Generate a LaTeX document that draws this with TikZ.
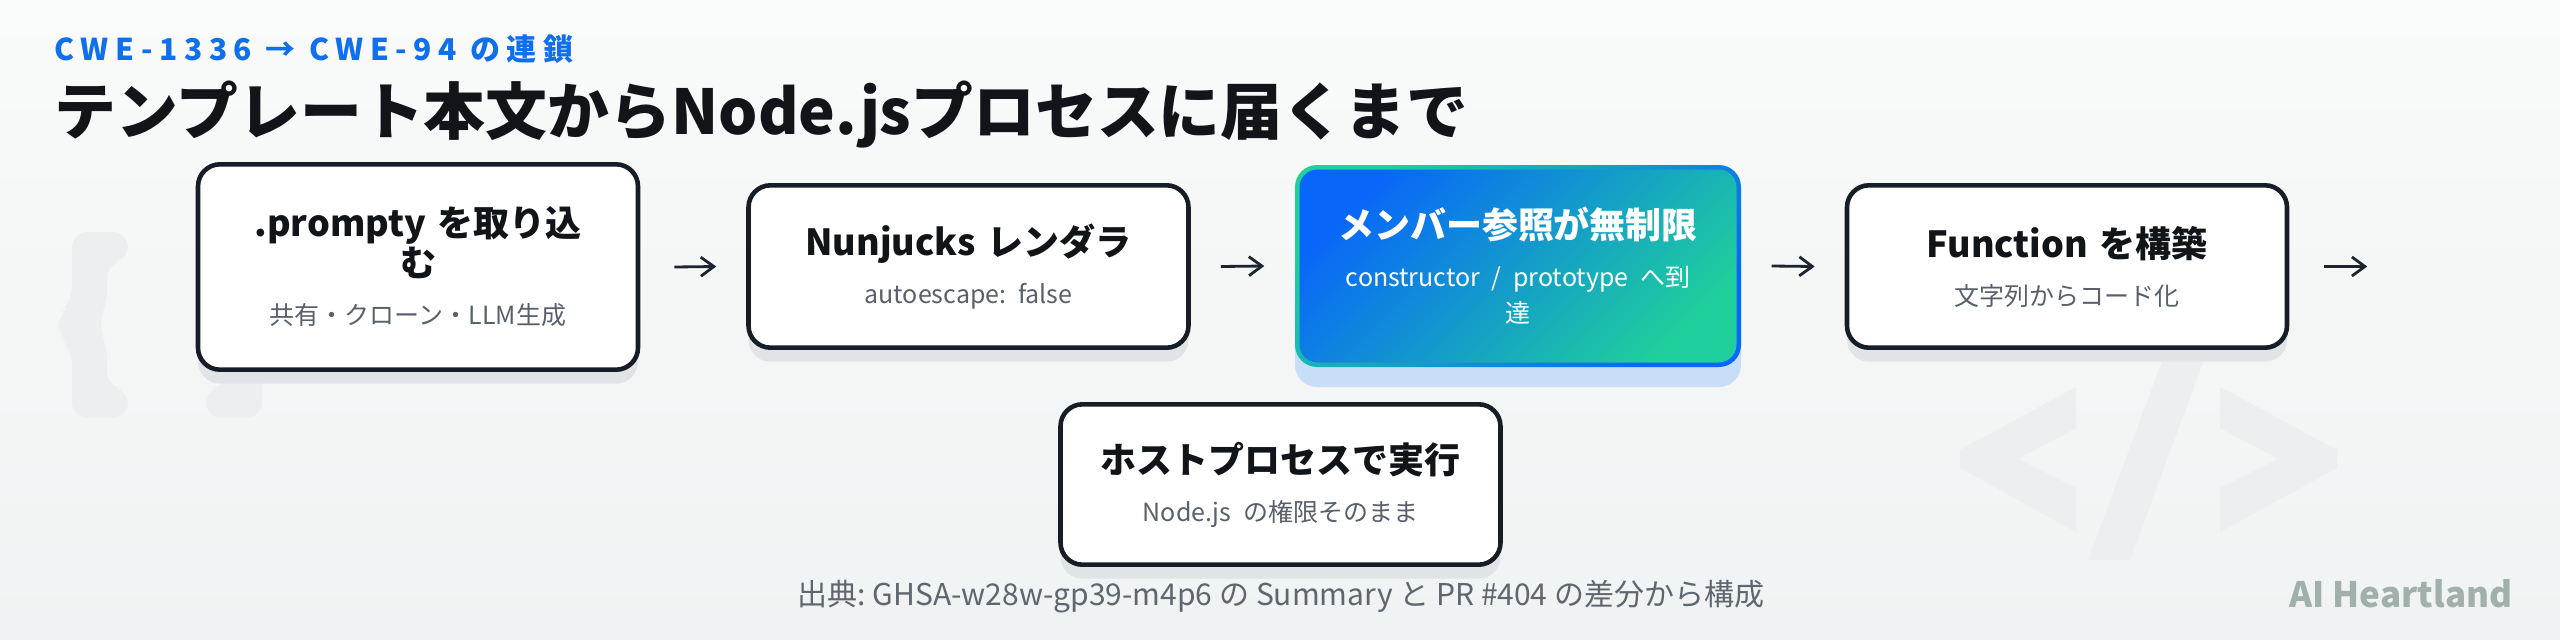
\documentclass[tikz,border=0pt]{standalone}
\usepackage{fontspec}
\setmainfont{Noto Sans CJK JP}
\usetikzlibrary{arrows.meta,shadows}
\frenchspacing

\definecolor{pagetop}{HTML}{F9FAFA}
\definecolor{pagebot}{HTML}{F0F3F3}
\definecolor{kicker}{HTML}{0F6FEC}
\definecolor{ink}{HTML}{111418}
\definecolor{edge}{HTML}{151D27}
\definecolor{subink}{HTML}{58606B}
\definecolor{shadowgray}{HTML}{E1E4E6}
\definecolor{hotblue}{HTML}{0866FA}
\definecolor{hotteal}{HTML}{1FCF9C}
\definecolor{hotshadow}{HTML}{C8DDF6}
\definecolor{ghostfill}{HTML}{ECEEEF}
\definecolor{arrowink}{HTML}{1C2430}
\definecolor{footink}{HTML}{5F6670}
\definecolor{brandink}{HTML}{A1B0AB}

\newcommand{\ttlfont}{\fontsize{10.24pt}{11.4pt}\selectfont\bfseries}
\newcommand{\subfont}{\fontsize{7.11pt}{10.24pt}\selectfont}
\newcommand{\stagetext}[3][subink]{{\ttlfont #2\par}\vspace{1.2mm}{\subfont\color{#1}#3\par}}

\tikzset{
  box/.style={rounded corners=2.2mm, text width=41.5mm, inner xsep=1.25mm,
    inner ysep=0pt, align=center, text=ink},
  stage/.style={box, draw=edge, line width=1.3pt, fill=white,
    drop shadow={shadow xshift=0mm, shadow yshift=-1.4mm, fill=shadowgray, opacity=1}},
  hot/.style={box, text=white, minimum width=44.6mm,
    left color=hotteal, right color=hotblue, shading angle=45,
    drop shadow={shadow xshift=0mm, shadow yshift=-2mm, fill=hotshadow, opacity=1},
    path picture={\shade[rounded corners=1.8mm, left color=hotblue, right color=hotteal, shading angle=45]
      ([xshift=0.45mm,yshift=-0.45mm]path picture bounding box.north west) rectangle
      ([xshift=-0.45mm,yshift=0.45mm]path picture bounding box.south east);}},
  flow/.style={draw=arrowink, line width=0.8pt, -{Straight Barb[length=1.3mm,width=1.9mm]}},
  ghost/.style={fill=ghostfill, draw=none}
}

\begin{document}
\begin{tikzpicture}[x=0.1mm,y=-0.1mm]
\useasboundingbox (0,0) rectangle (2560,640);
\shade[top color=pagetop, bottom color=pagebot] (0,0) rectangle (2560,640);

% faint code marks behind the boxes
\foreach \flip/\dx in {1/0,-1/334}
  \fill[ghost, shift={(\dx,0)}, xscale=\flip, rounded corners=1.6mm]
    (128,232) -- (72,232) -- (72,303) -- (58,314) -- (58,336) -- (72,347)
    -- (72,418) -- (128,418) -- (128,388) -- (107,388) -- (107,342)
    -- (96,325) -- (107,308) -- (107,262) -- (128,262) -- cycle;
\fill[ghost] (2076,387) -- (1960,450) -- (1960,468) -- (2076,532) -- (2076,488)
  -- (2018,459) -- (2076,428) -- cycle;
\fill[ghost] (2220,387) -- (2337,450) -- (2337,468) -- (2220,532) -- (2220,488)
  -- (2278,459) -- (2220,428) -- cycle;
\fill[ghost] (2088,560) -- (2130,560) -- (2226,300) -- (2185,300) -- cycle;

% heading
\node[anchor=base west, inner sep=0pt, text=kicker,
  font=\fontsize{8.54pt}{10pt}\selectfont\bfseries\addfontfeatures{LetterSpace=22}]
  (kick) at (54,60) {CWE-1336 → CWE-94 の連鎖};
\node[anchor=base west, inner sep=0pt, text=ink,
  font=\fontsize{17.6pt}{19pt}\selectfont\bfseries]
  (headline) at (54,134) {テンプレート本文からNode.jsプロセスに届くまで};

% stages
\node[stage, minimum height=20.54mm] (load) at (418,267)
  {\stagetext{.prompty を取り込\\む}{共有・クローン・LLM生成}};
\node[stage, minimum height=16.24mm] (render) at (968.5,266.5)
  {\stagetext{Nunjucks レンダラ}{autoescape: false}};
\node[hot, minimum height=20.2mm] (member) at (1518,266)
  {\stagetext[white]{メンバー参照が無制限}{constructor / prototype へ到\\達}};
\node[stage, minimum height=16.24mm] (func) at (2067,266.5)
  {\stagetext{Function を構築}{文字列からコード化}};
\node[stage, minimum height=16.04mm] (host) at (1280.5,484.5)
  {\stagetext{ホストプロセスで実行}{Node.js の権限そのまま}};

% arrows
\draw[flow] ([xshift=3.4mm]load.east) -- ([xshift=-3mm]render.west);
\draw[flow] ([xshift=3mm]render.east) -- ([xshift=-3mm]member.west);
\draw[flow] ([xshift=3mm]member.east) -- ([xshift=-3mm]func.west);
\coordinate (wrap) at ([xshift=7.8mm]func.east);
\draw[flow] ([xshift=3.5mm]func.east) -- (wrap);

% footer
\node[anchor=base, inner sep=0pt, text=footink, font=\fontsize{8.54pt}{10pt}\selectfont]
  (source) at (1281,605) {出典: GHSA-w28w-gp39-m4p6 の Summary と PR \#404 の差分から構成};
\node[anchor=base east, inner sep=0pt, text=brandink, font=\fontsize{9.96pt}{11pt}\selectfont\bfseries]
  (brand) at (2513,607) {AI Heartland};
\end{tikzpicture}
\end{document}
